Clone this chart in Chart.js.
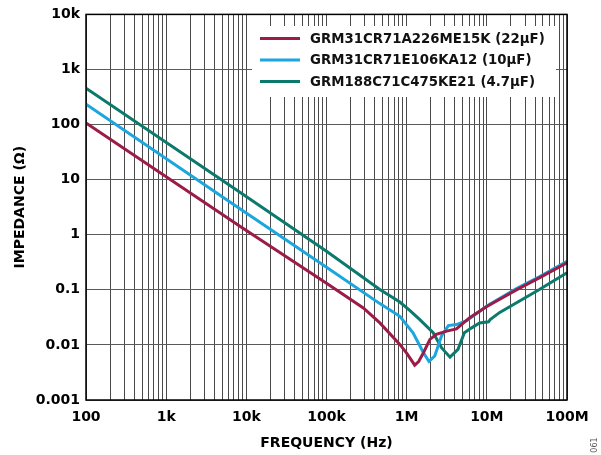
<!DOCTYPE html>
<html>
<head>
<meta charset="utf-8">
<script src="https://cdn.jsdelivr.net/npm/chart.js@4.4.0/dist/chart.umd.min.js"></script>
<style>
    html, body { margin: 0; padding: 0; background: #fff; }
</style>
</head>
<body>
<canvas id="myChart" width="601" height="455"></canvas>
<script>
"use strict";

// series names and colours
var seriesNames = [
    'GRM31CR71A226ME15K (22µF)',
    'GRM31CR71E106KA12 (10µF)',
    'GRM188C71C475KE21 (4.7µF)'
];
var seriesColors = ['#9c1c48', '#1ba6dd', '#0b7a6d'];

// 22uF
var redHz  = [100, 8318, 1e5, 2.88e5, 4.63e5, 8.22e5, 1.0e6, 1.26e6, 1.41e6, 1.62e6, 1.95e6, 2.34e6, 3.16e6, 4.17e6, 6.17e6, 1.0e7, 2.34e7, 4.57e7, 1.0e8];
var redOhm = [107, 1.43, 0.132, 0.0468, 0.0251, 0.0102, 0.0071, 0.0043, 0.0050, 0.0072, 0.0126, 0.0155, 0.0178, 0.0195, 0.0316, 0.050, 0.100, 0.166, 0.31];

// 10uF
var blueHz  = [100, 8318, 1e5, 4.63e5, 8.22e5, 1.2e6, 1.62e6, 1.9e6, 2.24e6, 2.72e6, 3.31e6, 4.17e6, 5.62e6, 1.0e7, 2.34e7, 4.57e7, 1.0e8];
var blueOhm = [234, 2.95, 0.257, 0.0562, 0.0331, 0.0166, 0.0072, 0.0050, 0.0063, 0.0145, 0.0224, 0.0234, 0.0275, 0.051, 0.105, 0.174, 0.33];

// 4.7uF
var greenHz  = [100, 8318, 1e5, 4.63e5, 8.22e5, 1.1e6, 1.46e6, 2.14e6, 2.72e6, 3.47e6, 4.37e6, 5.25e6, 6.46e6, 8.13e6, 1.05e7, 1.1e7, 1.45e7, 4.47e7, 1.0e8];
var greenOhm = [457, 5.89, 0.50, 0.101, 0.060, 0.042, 0.0288, 0.0166, 0.0089, 0.0060, 0.0083, 0.0166, 0.0204, 0.0251, 0.0263, 0.0288, 0.0389, 0.100, 0.204];

// axis ticks
var xTickValues = [100, 1e3, 1e4, 1e5, 1e6, 1e7, 1e8];
var xTickLabels = ['100', '1k', '10k', '100k', '1M', '10M', '100M'];
var yTickValues = [0.001, 0.01, 0.1, 1, 10, 100, 1000, 10000];
var yTickLabels = ['0.001', '0.01', '0.1', '1', '10', '100', '1k', '10k'];

var FONT = "'DejaVu Sans', 'Liberation Sans', sans-serif";

function toPoints(hz, ohm) {
    var pts = [];
    for (var i = 0; i < hz.length; i++) {
        pts.push({ x: hz[i], y: ohm[i] });
    }
    return pts;
}

function labelFor(values, labels, v) {
    for (var i = 0; i < values.length; i++) {
        if (Math.abs(v / values[i] - 1) < 1e-6) return labels[i];
    }
    return '';
}

// legend with a white box, drawn over the grid
var boxLegend = {
    id: 'boxLegend',
    afterDatasetsDraw: function(chart) {
        var ctx = chart.ctx;
        ctx.save();
        ctx.fillStyle = '#fff';
        ctx.fillRect(252, 26, 304, 71);
        ctx.font = 'bold 13.3px ' + FONT;
        ctx.textBaseline = 'middle';
        ctx.textAlign = 'left';
        for (var i = 0; i < seriesNames.length; i++) {
            var y = 38.5 + i * 21.5;
            ctx.strokeStyle = seriesColors[i];
            ctx.lineWidth = 3;
            ctx.beginPath();
            ctx.moveTo(260, y);
            ctx.lineTo(300, y);
            ctx.stroke();
            ctx.fillStyle = '#111';
            ctx.fillText(seriesNames[i], 310, y + 1);
        }
        ctx.restore();
    },
    afterDraw: function(chart) {
        var a = chart.chartArea;
        var ctx = chart.ctx;
        ctx.save();
        ctx.strokeStyle = '#000';
        ctx.lineWidth = 1.5;
        ctx.strokeRect(a.left, a.top, a.right - a.left, a.bottom - a.top);
        // figure number at the lower right
        ctx.translate(595, 445);
        ctx.rotate(-Math.PI / 2);
        ctx.font = '8px ' + FONT;
        ctx.fillStyle = '#555';
        ctx.textAlign = 'center';
        ctx.textBaseline = 'middle';
        ctx.fillText('061', 0, 0);
        ctx.restore();
    }
};

var ctx1 = document.getElementById('myChart').getContext('2d');
var myChart = new Chart(ctx1, {
    type: 'line',
    data: {
        datasets: [{
            label: seriesNames[0],
            data: toPoints(redHz, redOhm),
            borderColor: seriesColors[0]
        }, {
            label: seriesNames[1],
            data: toPoints(blueHz, blueOhm),
            borderColor: seriesColors[1]
        }, {
            label: seriesNames[2],
            data: toPoints(greenHz, greenOhm),
            borderColor: seriesColors[2]
        }]
    },
    options: {
        responsive: false,
        animation: false,
        devicePixelRatio: 1,
        layout: {
            padding: { left: 0, right: 34, top: 14, bottom: 0 }
        },
        elements: {
            point: { radius: 0 },
            line: { borderWidth: 3, tension: 0, fill: false }
        },
        plugins: {
            legend: { display: false },
            tooltip: { enabled: false }
        },
        scales: {
            x: {
                type: 'logarithmic',
                min: 100,
                max: 1e8,
                afterBuildTicks: function(scale) {
                    var ticks = [];
                    for (var i = 0; i < xTickValues.length - 1; i++) {
                        for (var m = 1; m < 10; m++) {
                            ticks.push({ value: m * xTickValues[i] });
                        }
                    }
                    ticks.push({ value: xTickValues[xTickValues.length - 1] });
                    scale.ticks = ticks;
                },
                afterFit: function(scale) { scale.height = 55; },
                grid: { color: '#4a4a4a', lineWidth: 1, drawTicks: false },
                border: { display: false },
                ticks: {
                    autoSkip: false,
                    maxRotation: 0,
                    padding: 9,
                    color: '#000',
                    font: { family: FONT, size: 14, weight: 'bold' },
                    callback: function(v) { return labelFor(xTickValues, xTickLabels, v); }
                },
                title: {
                    display: true,
                    text: 'FREQUENCY (Hz)',
                    color: '#000',
                    font: { family: FONT, size: 14, weight: 'bold', lineHeight: 1.2 },
                    padding: { top: 0, bottom: 3 }
                }
            },
            y: {
                type: 'logarithmic',
                min: 0.001,
                max: 10000,
                afterBuildTicks: function(scale) {
                    scale.ticks = yTickValues.map(function(v) { return { value: v }; });
                },
                afterFit: function(scale) { scale.width = 86; },
                grid: { color: '#5a5a5a', lineWidth: 1, drawTicks: false },
                border: { display: false },
                ticks: {
                    autoSkip: false,
                    padding: 6,
                    color: '#000',
                    font: { family: FONT, size: 14, weight: 'bold' },
                    callback: function(v) { return labelFor(yTickValues, yTickLabels, v); }
                },
                title: {
                    display: true,
                    text: 'IMPEDANCE (Ω)',
                    color: '#000',
                    font: { family: FONT, size: 14, weight: 'bold', lineHeight: 1.2 },
                    padding: { top: 12, bottom: 0 }
                }
            }
        }
    },
    plugins: [boxLegend]
});
</script>
</body>
</html>
